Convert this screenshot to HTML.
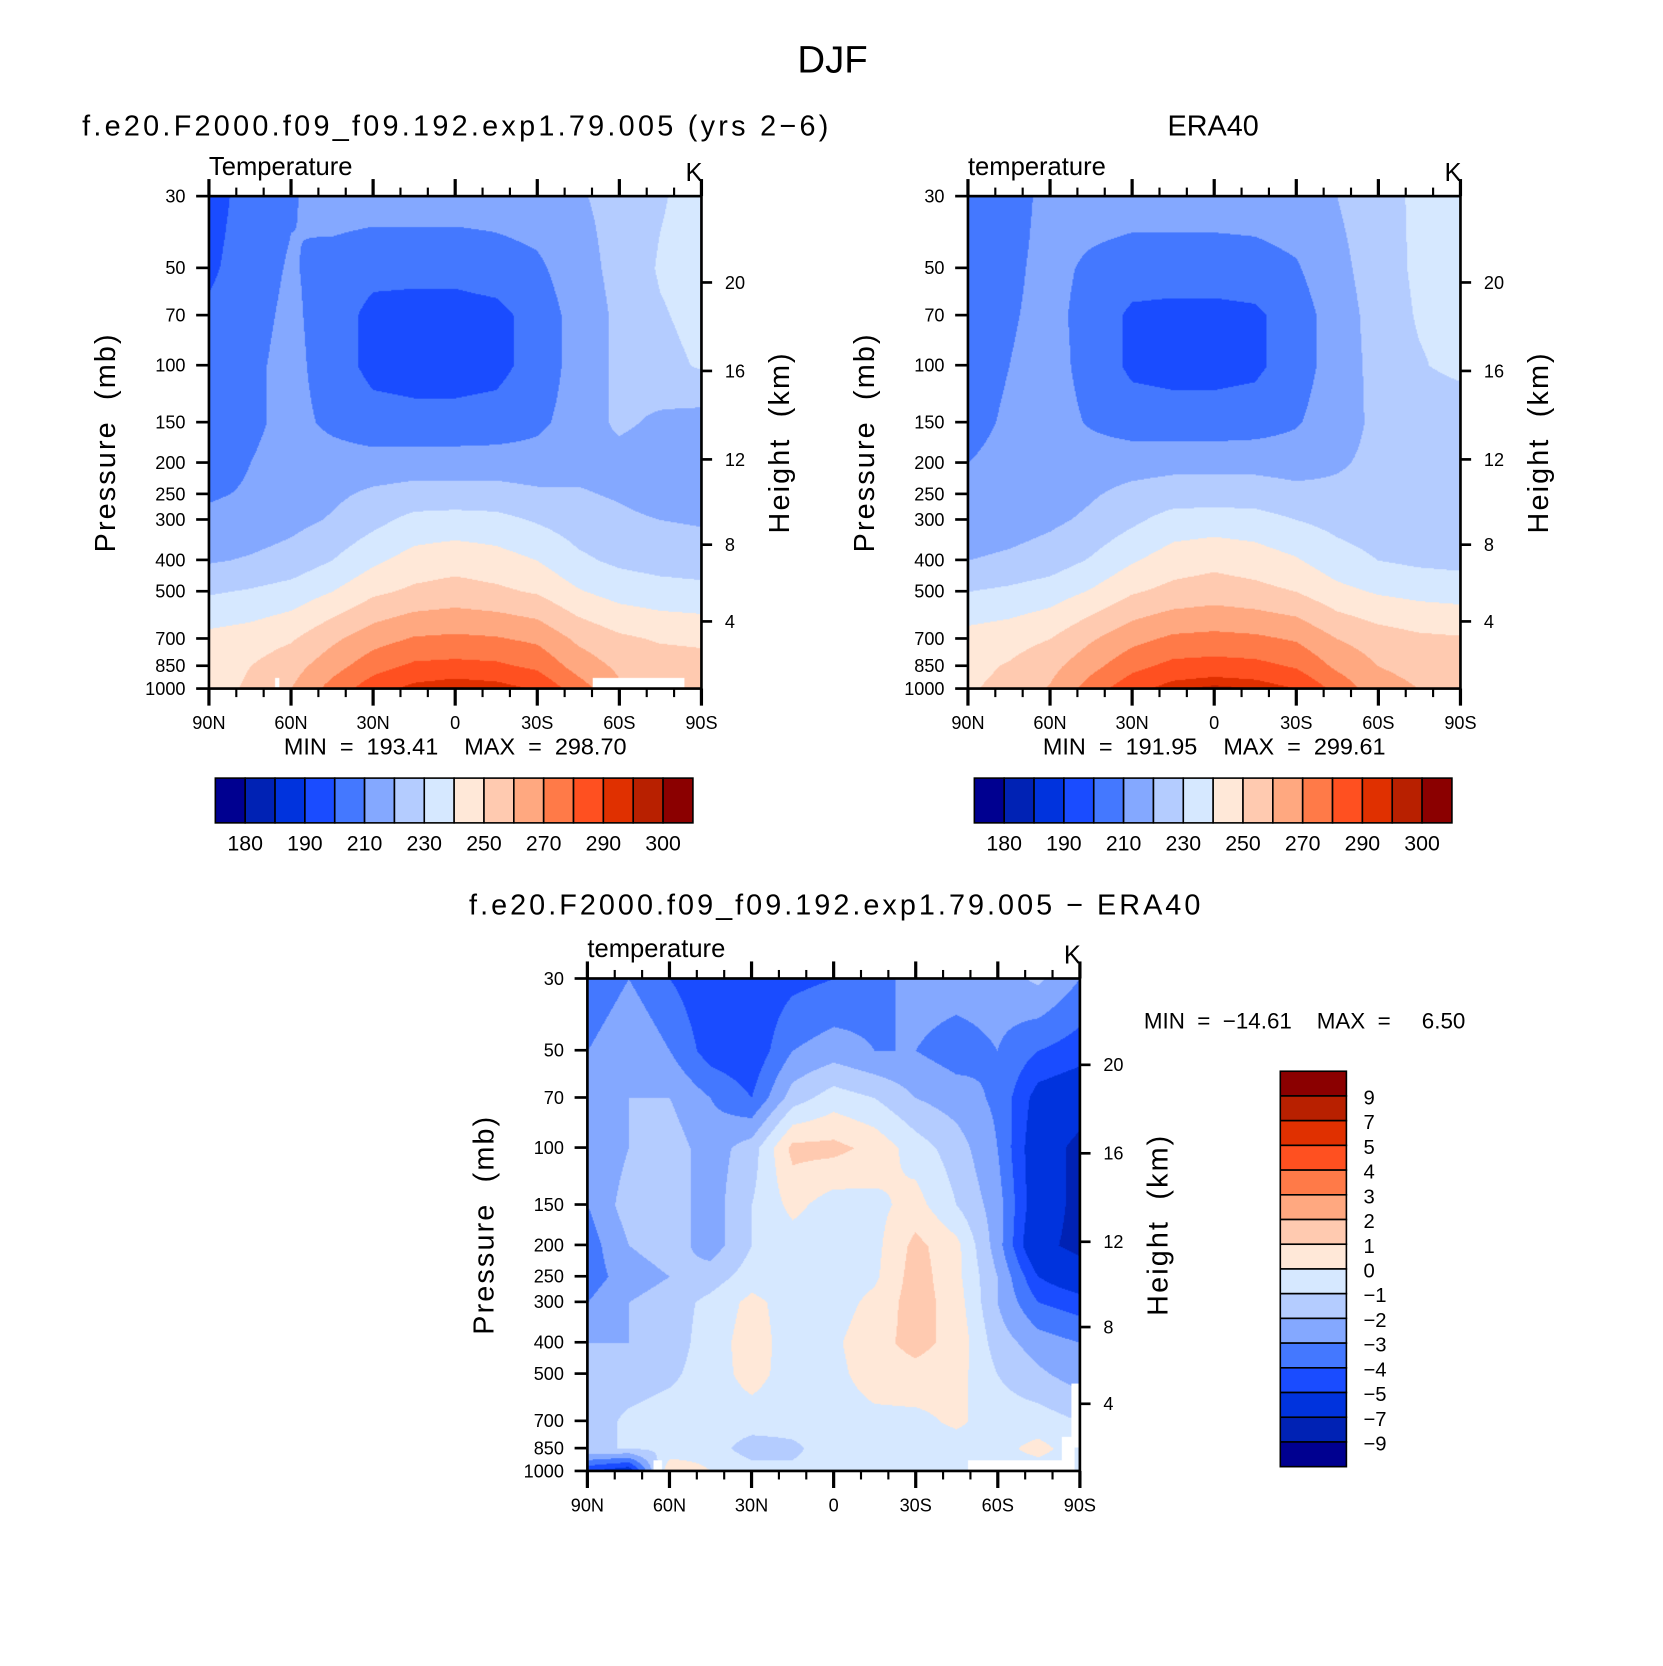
<!DOCTYPE html>
<html><head><meta charset="utf-8"><style>
html,body{margin:0;padding:0;background:#fff;overflow:hidden}
#root{position:absolute;left:0;top:0;width:1560px;height:1563px;transform-origin:0 0;transform:scale(1.06603,1.06590)}
canvas{position:absolute}
svg{position:absolute;left:0;top:0}
text{font-family:"Liberation Sans",sans-serif;fill:#000;white-space:pre}
</style></head><body>
<div id="root">
<canvas id="c1" width="462" height="462" style="left:196px;top:184px"></canvas>
<canvas id="c2" width="462" height="462" style="left:908px;top:184px"></canvas>
<canvas id="c3" width="462" height="462" style="left:551px;top:918px"></canvas>
<svg id="s" width="1560" height="1563" viewBox="0 0 1560 1563"></svg>
</div>
<script>
// ---- data ----
const latLabels=["90N","60N","30N","0","30S","60S","90S"];
const presLevels=[30,50,70,100,150,200,250,300,400,500,700,850,1000];
const heightTicks=[20,16,12,8,4];
const heightOffsets=[81,164,247,327,399];
const tempLevels=[180,185,190,200,210,220,230,240,250,260,270,280,290,295,300];
const tempLabels=["180","190","210","230","250","270","290","300"];
const diffLevels=[-9,-7,-5,-4,-3,-2,-1,0,1,2,3,4,5,7,9];
const diffLabels=["9","7","5","4","3","2","1","0","\u22121","\u22122","\u22123","\u22124","\u22125","\u22127","\u22129"];
const palette=["#000090","#0022b4","#0033dd","#1a4cff","#4478ff","#84a8ff","#b4ccff","#d6e8ff","#ffe8d8","#ffcab0","#ffa880","#ff7a48","#ff5020","#e03000","#b82000","#8b0000"];
// columns: 90N,75N,60N,45N,30N,15N,0,15S,30S,45S,60S,75S,90S ; rows: presLevels
const modelT=[
[195,205,209,215,215,215,215,215,216,219,223,229,234],
[198,206,211,206,203,203,203,205,208,216,223,231,234],
[202,207,212,205,197,196,196,197,204,214,222,229,233],
[204,208,213,205,197,196,196,197,204,214,222,227,231],
[205,208,213,208,204,203,203,204,208,214,222,218,216],
[206,210,214,214,214,215,215,215,214,217,216,214,213],
[209,211,214,218,222,224,224,224,222,221,219,216,215],
[212,214,217,221,227,233,234,233,229,225,222,220,219],
[219,221,224,230,238,244,246,244,240,232,228,226,225],
[229,231,234,240,248,252,254,252,249,241,236,234,233],
[243,245,249,258,266,271,272,271,268,258,252,249,248],
[244,250,256,266,276,282,283,282,278,266,258,255,254],
[245,252,260,274,286,293,296,294,289,275,262,257,256]];
const eraT=[
[205,206,213,215,215,215,215,215,216,220,226,232,234],
[205,208,213,208,205,205,205,206,209,217,225,232,234],
[206,209,213,206,198,197,197,198,205,215,224,231,233],
[207,210,214,206,198,197,197,198,205,215,223,229,233],
[208,211,214,209,205,204,204,205,209,216,222,222,222],
[210,212,214,215,216,217,217,217,216,219,222,222,222],
[211,213,215,219,223,225,225,225,223,222,222,221,221],
[213,215,218,222,228,234,235,234,230,227,225,224,223],
[220,222,225,231,239,245,247,245,241,234,230,228,227],
[230,232,235,241,249,253,255,253,250,243,239,237,236],
[244,246,250,259,267,272,273,272,269,260,255,252,251],
[247,251,257,267,277,283,284,283,279,268,260,257,256],
[249,253,261,275,287,294,297,295,290,277,264,260,259]];
const diffT=[
[-4,-3,-4,-4.8,-4.8,-4.3,-4,-3.5,-2.5,-2.5,-2.5,-1.8,-3],
[-3,-2,-3,-4.5,-4.8,-3,-2.5,-3,-3,-3.5,-3,-4,-4.5],
[-3,-2,-2,-3,-4,-1.5,-0.5,-1,-2,-2.5,-3.2,-5.5,-6],
[-3,-2,-1.5,-2.5,-1.5,1.3,1.3,0.7,-0.5,-1.5,-3,-6,-7.5],
[-3,-1.5,-1.5,-2.5,-1,0.3,-0.5,-0.3,0.4,-1,-2.5,-6,-7.5],
[-3.5,-2,-1.5,-2.5,-1,-0.5,-0.7,-0.3,1.3,0.3,-2.5,-6.5,-7.5],
[-3.5,-2.5,-2,-1.5,-0.5,-0.7,-0.6,-0.2,1.5,0.3,-2,-5,-6],
[-3,-2,-1.5,-0.7,0.3,-0.5,-0.5,0.3,1.5,0.5,-2,-4,-4.5],
[-2,-2,-1.5,-0.5,0.5,-0.5,-0.2,0.7,1.3,0.7,-1.5,-2.5,-3],
[-1.5,-1.5,-1.2,-0.5,0.4,-0.5,-0.3,0.5,0.7,0.4,-1,-1.8,-2.5],
[-1.5,-0.8,-0.5,-0.5,-0.5,-0.6,-0.5,-0.3,-0.3,0.2,-0.5,-0.5,-1],
[-1,-1,-0.8,-0.5,-1.5,-1.2,-0.5,-0.5,-0.5,-0.5,-0.3,0.3,-0.5],
[-5,-6,1,0,-0.5,-0.8,-0.5,-0.5,-0.5,-0.5,-0.5,-0.5,-0.5]];

// ---- scales ----
const PW=462,PH=462;
function yOfP(p){return Math.log(p/30)/Math.log(1000/30)*PH;}
function hex(c){return [parseInt(c.substr(1,2),16),parseInt(c.substr(3,2),16),parseInt(c.substr(5,2),16)];}
const pal=palette.map(hex);
function drawField(id,data,levels){
  const cv=document.getElementById(id),ctx=cv.getContext('2d');
  const img=ctx.createImageData(PW,PH);
  const rowY=presLevels.map(yOfP);
  for(let py=0;py<PH;py++){
    let r=0;while(r<rowY.length-2&&py>rowY[r+1])r++;
    const ty=Math.min(1,Math.max(0,(py-rowY[r])/(rowY[r+1]-rowY[r])));
    for(let px=0;px<PW;px++){
      const fx=px/(PW-1)*12;let c=Math.min(11,Math.floor(fx));const tx=fx-c;
      const v=(data[r][c]*(1-tx)+data[r][c+1]*tx)*(1-ty)+(data[r+1][c]*(1-tx)+data[r+1][c+1]*tx)*ty;
      let k=0;while(k<levels.length&&v>=levels[k])k++;
      const col=pal[k],o=(py*PW+px)*4;
      img.data[o]=col[0];img.data[o+1]=col[1];img.data[o+2]=col[2];img.data[o+3]=255;
    }
  }
  ctx.putImageData(img,0,0);
}
drawField('c1',modelT,tempLevels);
drawField('c2',eraT,tempLevels);
drawField('c3',diffT,diffLevels);
// missing-data patches
(function(){
  let ctx=document.getElementById('c1').getContext('2d');ctx.fillStyle='#fff';
  ctx.fillRect(360,452,86,10);ctx.fillRect(62,452,4,10);
  ctx=document.getElementById('c3').getContext('2d');ctx.fillStyle='#fff';
  ctx.fillRect(357,452,100,10);ctx.fillRect(445,430,12,25);ctx.fillRect(454,380,8,60);ctx.fillRect(62,452,8,10);
})();

// ---- svg annotations ----
const S=document.getElementById('s');const NS='http://www.w3.org/2000/svg';
function el(tag,attrs,txt){const e=document.createElementNS(NS,tag);for(const k in attrs)e.setAttribute(k,attrs[k]);if(txt!==undefined)e.textContent=txt;S.appendChild(e);return e;}
function txt(x,y,s,size,anchor,name,extra){
  const t=el('text',Object.assign({x:x,y:y,'font-size':size,'text-anchor':anchor||'start'},extra||{}),s);
  
  
  return t;
}
function axes(L,T,prefix,leftTitle,stats){
  const f=el('rect',{x:L,y:T,width:PW,height:PH,fill:'none',stroke:'#000','stroke-width':2.5});
  
  
  presLevels.forEach(p=>{const y=T+yOfP(p);
    el('line',{x1:L-12,x2:L,y1:y,y2:y,stroke:'#000','stroke-width':2.5});
    txt(L-22,y+6,String(p),17,'end',prefix+'-pressure-tick-label');});
  heightTicks.forEach((h,i)=>{const y=T+heightOffsets[i];
    el('line',{x1:L+PW,x2:L+PW+10,y1:y,y2:y,stroke:'#000','stroke-width':2.5});
    txt(L+PW+22,y+6,String(h),17,'start',prefix+'-height-tick-label');});
  for(let i=0;i<=18;i++){const x=L+i*PW/18,maj=i%3===0,len=maj?16:8;
    el('line',{x1:x,x2:x,y1:T+PH,y2:T+PH+len,stroke:'#000','stroke-width':maj?3:2});
    el('line',{x1:x,x2:x,y1:T,y2:T-len,stroke:'#000','stroke-width':maj?3:2});}
  latLabels.forEach((s,i)=>txt(L+i*PW/6,T+PH+38,s,17,'middle',prefix+'-lat-tick-label'));
  txt(L,T-20,leftTitle,24,'start',prefix+'-variable-label');
  txt(L+PW-7,T-14,'K',24,'middle',prefix+'-units-label');
  txt(0,0,'Pressure  (mb)',27,'middle',prefix+'-y-axis-title',{transform:`translate(${L-88},${T+231}) rotate(-90)`,'letter-spacing':'2'});
  txt(0,0,'Height  (km)',27,'middle',prefix+'-right-axis-title',{transform:`translate(${L+PW+82},${T+231}) rotate(-90)`,'letter-spacing':'2'});
  if(stats) txt(L+231,T+PH+62,stats,22,'middle',prefix+'-min-max-label');
}
function hbar(L,T,prefix){
  for(let i=0;i<16;i++){const r=el('rect',{x:L+i*28,y:T,width:28,height:42,fill:palette[i],stroke:'#000','stroke-width':1.5});
    
    }
  tempLabels.forEach((s,i)=>txt(L+(2*i+1)*28,T+68,s,20,'middle',prefix+'-colorbar-label'));
}
txt(781,68,'DJF',36,'middle','figure-title');
txt(77,127,'f.e20.F2000.f09_f09.192.exp1.79.005 (yrs 2\u22126)',27,'start','model-panel-title',{textLength:700});
txt(1138,127,'ERA40',27,'middle','era40-panel-title');
axes(196,184,'model','Temperature','MIN  =  193.41    MAX  =  298.70');
axes(908,184,'era40','temperature','MIN  =  191.95    MAX  =  299.61');
hbar(202,730,'model');hbar(914,730,'era40');
txt(783,858,'f.e20.F2000.f09_f09.192.exp1.79.005 \u2212 ERA40',27,'middle','difference-panel-title',{textLength:686});
axes(551,918,'diff','temperature',null);
txt(1073,965,'MIN  =  \u221214.61    MAX  =     6.50',21,'start','diff-min-max-label');
// vertical colorbar
(function(){const L=1201,T=1005,H=371/16;
  for(let i=0;i<16;i++){const r=el('rect',{x:L,y:T+i*H,width:62,height:H,fill:palette[15-i],stroke:'#000','stroke-width':1.5});
    
    }
  diffLabels.forEach((s,i)=>txt(L+78,T+(i+1)*H+8,s,19,'start','diff-colorbar-label'));
})();
</script>
</body></html>
